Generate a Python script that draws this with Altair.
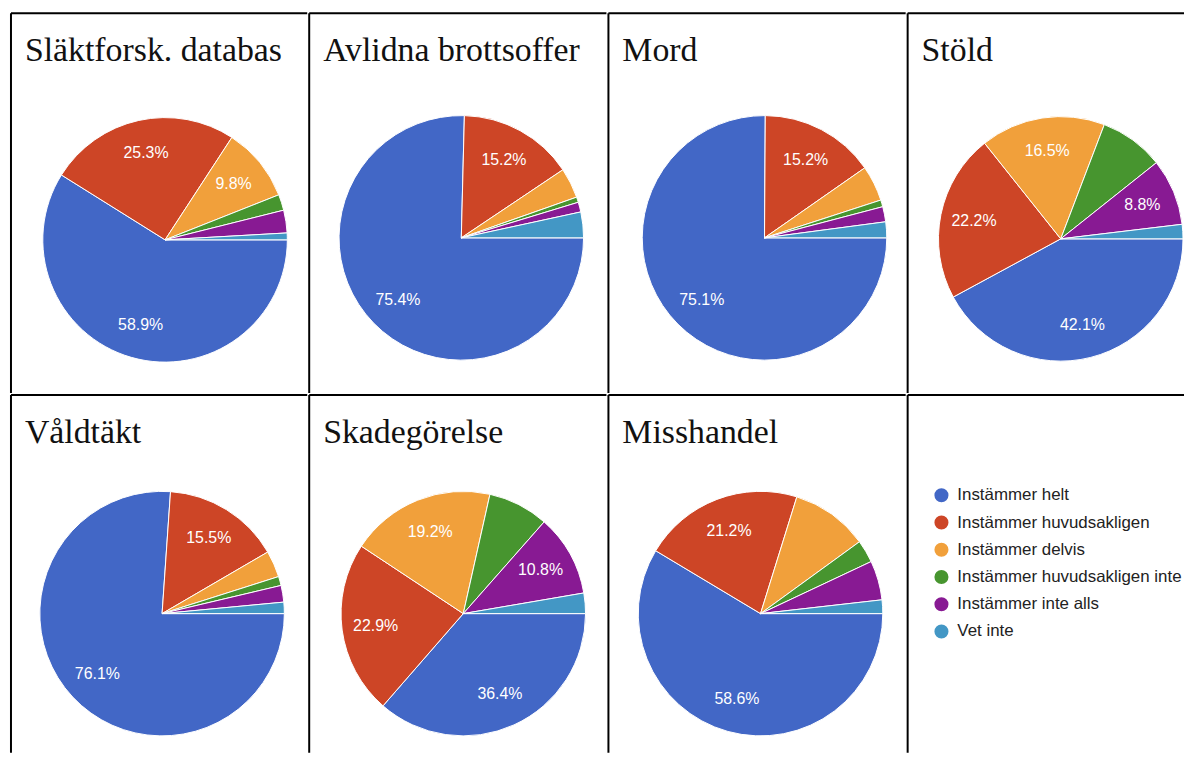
import math
import altair as alt
import pandas as pd

titles = ["Släktforsk. databas", "Avlidna brottsoffer", "Mord", "Stöld",
          "Våldtäkt", "Skadegörelse", "Misshandel"]
categories = ["Instämmer helt", "Instämmer huvudsakligen", "Instämmer delvis",
              "Instämmer huvudsakligen inte", "Instämmer inte alls", "Vet inte"]
colors = ["#4267C6", "#CD4526", "#F1A03B", "#47952F", "#881A93", "#4397C5"]

slaktforsk = [58.9, 25.3, 9.8, 2.1, 3.0, 0.9]
avlidna = [75.4, 15.2, 4.0, 0.7, 1.3, 3.4]
mord = [75.1, 15.2, 4.7, 0.9, 2.0, 2.1]
stold = [42.1, 22.2, 16.5, 8.5, 8.8, 1.9]
valdtakt = [76.1, 15.5, 3.5, 1.2, 2.2, 1.5]
skadegorelse = [36.4, 22.9, 19.2, 8.0, 10.8, 2.7]
misshandel = [58.6, 21.2, 10.2, 3.0, 5.2, 1.8]

series = [slaktforsk, avlidna, mord, stold, valdtakt, skadegorelse, misshandel]
# which slices carry a visible percentage label
labeled = [
    [1, 1, 1, 0, 0, 0],
    [1, 1, 0, 0, 0, 0],
    [1, 1, 0, 0, 0, 0],
    [1, 1, 1, 0, 1, 0],
    [1, 1, 0, 0, 0, 0],
    [1, 1, 1, 0, 1, 0],
    [1, 1, 0, 0, 0, 0],
]

rows = []
for t, vals, labs in zip(titles, series, labeled):
    for i, (c, v, l) in enumerate(zip(categories, vals, labs)):
        rows.append({"chart": t, "cat": c, "idx": i, "value": v,
                     "label": f"{v}%" if l else ""})
df = pd.DataFrame(rows)
legend_df = pd.DataFrame({"cat": categories, "idx": list(range(len(categories)))})

color_scale = alt.Scale(domain=categories, range=colors)
theta_scale = alt.Scale(domain=[0, 100], range=[math.pi / 2, math.pi / 2 + 2 * math.pi])

COL_W = [298, 299, 299, 278]
ROW_H = [382, 360]
PIE_R = 123
LABEL_R = 89
SERIF = "Liberation Serif"
SANS = "Liberation Sans"


def borders(w, h):
    one = alt.Data(values=[{"k": 1}])
    left = alt.Chart(one).mark_rule(color="black", strokeWidth=2).encode(
        x=alt.value(0), y=alt.value(0), y2=alt.value(h))
    top = alt.Chart(one).mark_rule(color="black", strokeWidth=2).encode(
        x=alt.value(0), x2=alt.value(w), y=alt.value(0))
    return [left, top]


def pie_cell(k, w, h, cx, cy):
    sub = df[df["chart"] == titles[k]]
    base = alt.Chart(sub)
    arcs = base.mark_arc(radius=PIE_R, stroke="white", strokeWidth=1).encode(
        theta=alt.Theta("value:Q", stack=True, scale=theta_scale),
        color=alt.Color("cat:N", scale=color_scale, legend=None),
        order=alt.Order("idx:Q"),
        x=alt.value(cx), y=alt.value(cy),
    )
    labels = base.mark_text(radius=LABEL_R, color="white", font=SANS, fontSize=16).encode(
        theta=alt.Theta("value:Q", stack=True, scale=theta_scale),
        order=alt.Order("idx:Q"),
        text="label:N",
        x=alt.value(cx), y=alt.value(cy),
    )
    title = alt.Chart(pd.DataFrame({"t": [titles[k]]})).mark_text(
        align="left", baseline="alphabetic", font=SERIF, fontSize=34, color="#111"
    ).encode(x=alt.value(14), y=alt.value(48), text="t:N")
    return alt.layer(arcs, labels, title, *borders(w, h)).properties(width=w, height=h)


def legend_cell(w, h):
    base = alt.Chart(legend_df)
    ysc = alt.Scale(domain=[0, 5], range=[101, 238])
    dots = base.mark_circle(size=200, opacity=1).encode(
        x=alt.value(34),
        y=alt.Y("idx:Q", scale=ysc, axis=None),
        color=alt.Color("cat:N", scale=color_scale, legend=None),
    )
    txt = base.mark_text(align="left", baseline="middle", font=SANS, fontSize=17, color="#222").encode(
        x=alt.value(50),
        y=alt.Y("idx:Q", scale=ysc, axis=None),
        text="cat:N",
    )
    return alt.layer(dots, txt, *borders(w, h)).properties(width=w, height=h)


row1 = alt.hconcat(
    pie_cell(0, COL_W[0], ROW_H[0], 155, 228),
    pie_cell(1, COL_W[1], ROW_H[0], 153, 226),
    pie_cell(2, COL_W[2], ROW_H[0], 157, 226),
    pie_cell(3, COL_W[3], ROW_H[0], 154, 227),
    spacing=0,
)
row2 = alt.hconcat(
    pie_cell(4, COL_W[0], ROW_H[1], 152, 220),
    pie_cell(5, COL_W[1], ROW_H[1], 155, 220),
    pie_cell(6, COL_W[2], ROW_H[1], 153, 220),
    legend_cell(COL_W[3], ROW_H[1]),
    spacing=0,
)

chart = alt.vconcat(row1, row2, spacing=0).configure_view(
    stroke=None
).configure_concat(spacing=0).properties(
    padding={"left": 2, "top": 2, "right": 0, "bottom": 0},
    background="white",
)

chart.save("out.html", embed_options={"renderer": "svg", "actions": False})
